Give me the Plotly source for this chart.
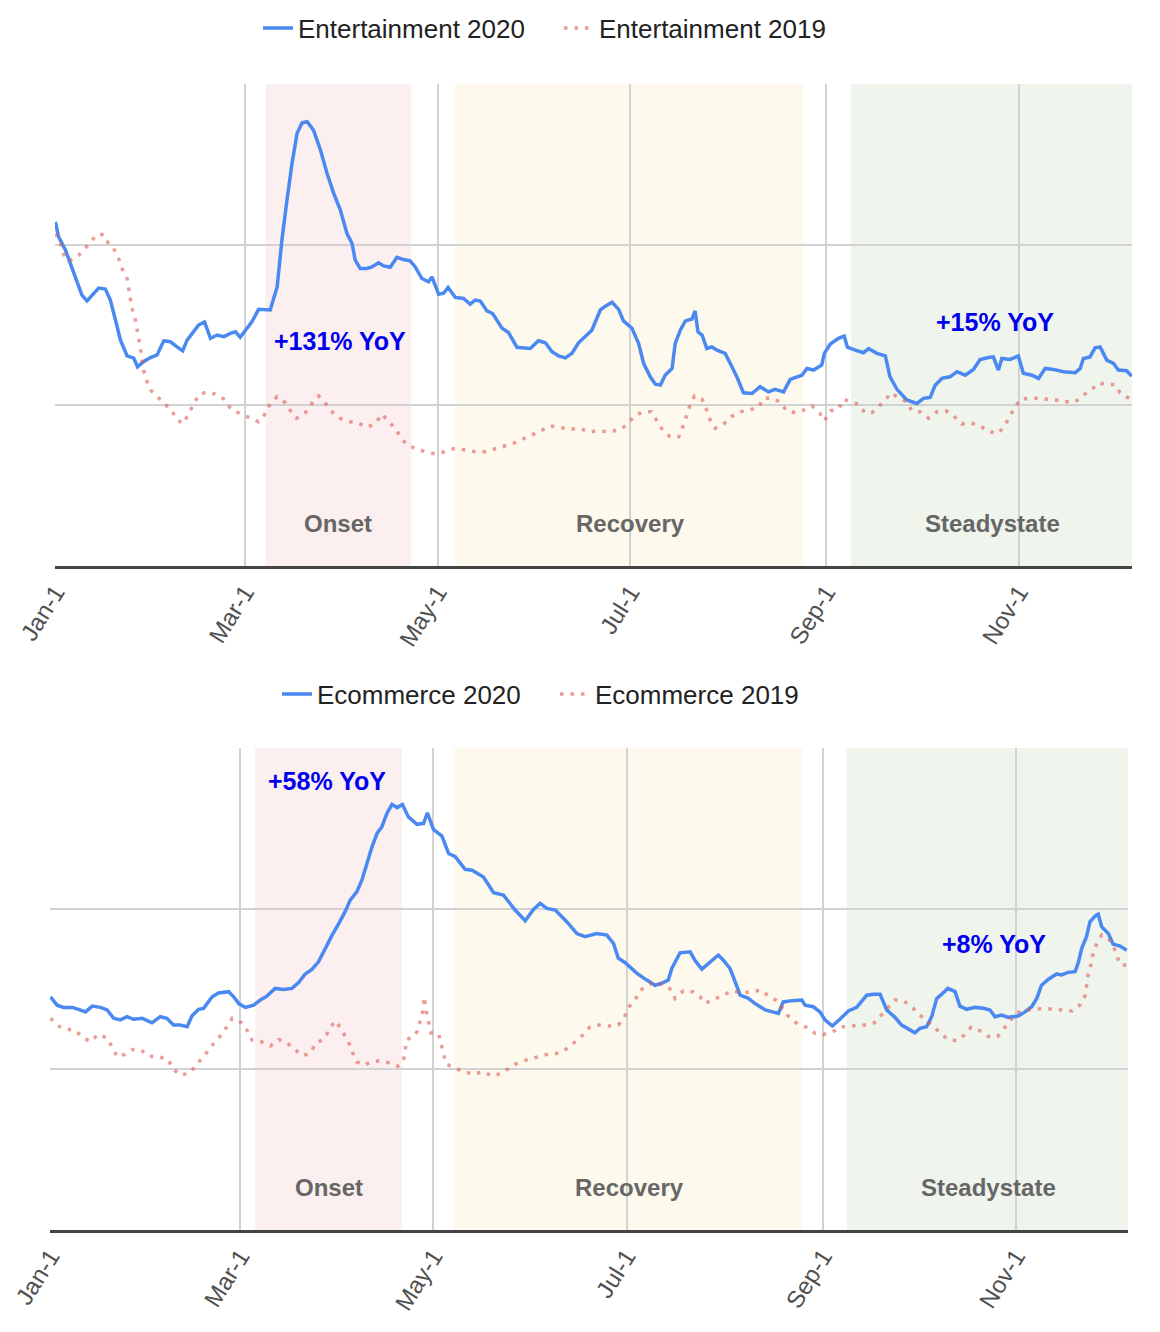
import pandas as pd
import plotly.graph_objects as go

# ---------------- data (day offset from 2020-01-01, index value) ----------------
ent20_day = [0, 1.0, 3.2, 5.8, 8.4, 10.0, 12.1, 13.7, 15.8, 17.4,
             19.0, 20.6, 22.7, 24.8, 26.0, 27.9, 30.1, 32.2, 34.3, 36.4,
             38.5, 40.3, 41.7, 43.8, 45.3, 47.2, 49.1, 51.2, 53.3, 55.4,
             57.0, 58.5, 60.1, 62.2, 64.3, 66.5, 68.0, 70.2, 71.7, 73.3,
             74.9, 76.5, 78.1, 79.7, 81.7, 83.9, 86.0, 88.1, 90.2, 92.3,
             93.9, 94.9, 96.5, 98.6, 100.2, 102.3, 103.9, 106.0, 108.1, 110.2,
             112.3, 113.9, 116.0, 118.1, 119.2, 121.3, 122.9, 124.3, 126.6, 129.2,
             131.3, 132.9, 134.5, 136.6, 138.4, 141.4, 143.4, 146.1, 148.2, 150.3,
             152.9, 155.1, 157.2, 159.3, 161.4, 163.5, 165.6, 168.3, 169.8, 172.5,
             174.1, 176.2, 178.3, 179.8, 182.5, 184.6, 186.2, 188.3, 189.9, 191.5,
             193.0, 195.2, 196.2, 197.8, 199.4, 201.5, 202.5, 203.4, 204.7, 206.2,
             207.8, 209.4, 212.0, 213.6, 215.7, 217.8, 220.5, 223.1, 225.7, 227.8,
             230.5, 232.6, 236.3, 237.9, 240.0, 242.6, 243.4, 245.3, 247.9, 249.7,
             250.7, 253.2, 255.8, 257.4, 260.0, 262.7, 264.2, 266.4, 269.5, 272.7,
             274.8, 276.9, 278.5, 280.6, 283.2, 285.4, 288.0, 290.6, 292.7, 295.4,
             296.9, 298.5, 299.6, 302.2, 304.8, 306.4, 309.1, 311.2, 313.3, 315.9,
             319.1, 322.8, 324.4, 325.4, 327.5, 329.1, 330.7, 332.8, 334.9, 336.5,
             339.1, 340.7]
ent20_val = [107.1, 102.5, 98.3, 91.2, 84.3, 82.5, 85.0, 86.5, 86.2, 82.8,
             76.6, 70.3, 65.4, 64.7, 62.0, 63.6, 64.9, 65.7, 70.1, 69.8,
             68.2, 67.0, 70.3, 72.9, 75.0, 76.0, 70.9, 71.9, 71.4, 72.4,
             72.9, 71.2, 73.4, 76.0, 79.9, 79.9, 79.7, 86.9, 101.5, 113.9,
             125.3, 134.7, 138.0, 138.3, 135.7, 129.5, 122.2, 116.0, 110.8, 103.5,
             100.4, 95.2, 92.6, 92.6, 93.1, 94.4, 93.4, 93.0, 96.1, 95.4,
             95.0, 93.1, 89.5, 88.5, 90.0, 84.6, 84.9, 86.7, 83.6, 83.3,
             81.5, 82.8, 82.5, 79.4, 78.6, 74.0, 72.7, 68.1, 67.9, 67.7,
             70.1, 69.5, 66.7, 65.4, 64.8, 66.2, 69.5, 72.1, 73.4, 79.7,
             80.9, 82.1, 79.9, 76.3, 74.0, 69.3, 63.1, 58.9, 56.6, 56.3,
             59.4, 61.5, 69.3, 73.4, 76.3, 76.9, 79.4, 72.9, 71.9, 67.7,
             68.2, 67.2, 66.2, 63.1, 58.9, 53.9, 53.7, 55.8, 54.2, 55.0,
             54.2, 58.1, 59.4, 61.5, 61.0, 62.6, 66.2, 69.1, 70.9, 71.6,
             68.1, 67.2, 66.4, 67.7, 66.2, 65.4, 58.9, 55.0, 51.7, 50.6,
             52.2, 52.5, 56.3, 58.4, 58.9, 60.5, 59.4, 61.2, 64.3, 64.9,
             65.1, 61.0, 64.6, 64.3, 65.4, 60.0, 59.4, 58.4, 61.5, 61.2,
             60.5, 60.2, 61.5, 64.6, 65.1, 67.9, 68.2, 64.1, 63.1, 61.0,
             60.8, 59.1]

ent19_day = [0, 1.6, 2.6, 4.2, 6.9, 9.0, 11.1, 13.2, 15.3, 16.9,
             18.4, 20.0, 21.1, 22.7, 23.7, 24.3, 25.3, 25.9, 26.4, 27.1,
             27.9, 29.0, 30.1, 32.2, 34.8, 36.9, 38.5, 40.6, 42.2, 43.8,
             45.3, 48.0, 50.6, 53.3, 55.4, 59.1, 62.2, 64.3, 66.5, 68.0,
             70.2, 72.8, 74.4, 76.3, 79.1, 81.2, 83.3, 85.4, 87.6, 90.0,
             93.4, 96.0, 98.6, 101.3, 103.4, 105.5, 107.6, 109.2, 111.3, 113.9,
             117.1, 120.3, 123.4, 126.4, 129.5, 132.9, 136.1, 138.7, 141.9, 145.0,
             147.7, 150.9, 153.5, 156.6, 159.8, 162.7, 165.8, 168.8, 171.9, 175.1,
             178.3, 180.9, 183.3, 185.9, 188.6, 190.4, 192.2, 194.6, 197.3, 198.8,
             199.9, 200.9, 202.3, 204.7, 206.2, 207.3, 208.9, 211.5, 213.9, 216.8,
             219.4, 222.6, 224.1, 226.8, 229.4, 231.5, 234.2, 236.8, 239.5, 241.9,
             243.4, 245.3, 247.9, 249.5, 251.6, 254.2, 256.3, 258.4, 260.5, 262.7,
             264.5, 266.9, 269.5, 271.1, 273.7, 276.4, 279.0, 282.0, 284.3, 286.9,
             289.6, 292.7, 295.4, 298.5, 300.6, 302.2, 303.8, 305.9, 308.5, 311.2,
             313.8, 316.5, 319.6, 322.8, 325.4, 328.1, 330.2, 332.8, 335.4, 337.0,
             339.1, 340.7]
ent19_val = [103.5, 100.5, 97.1, 94.9, 96.3, 98.3, 100.9, 103.2, 103.2, 100.2,
             98.9, 95.8, 92.6, 89.5, 83.3, 80.2, 76.6, 73.4, 70.3, 66.7,
             61.0, 57.4, 54.8, 52.9, 50.4, 48.3, 45.4, 44.4, 47.5, 50.4,
             53.2, 54.2, 53.5, 52.0, 49.1, 47.0, 46.0, 44.9, 47.5, 50.6,
             52.7, 50.8, 48.3, 46.0, 47.7, 50.6, 52.9, 50.8, 48.0, 46.0,
             44.9, 44.4, 43.2, 44.4, 47.3, 44.9, 42.9, 40.2, 37.7, 36.6,
             35.6, 34.9, 35.6, 36.6, 36.1, 35.6, 35.6, 36.3, 37.1, 38.2,
             39.4, 40.8, 42.0, 43.6, 43.2, 42.5, 42.9, 41.8, 42.0, 41.8,
             42.3, 43.9, 46.7, 48.0, 48.0, 45.2, 42.3, 40.2, 40.2, 43.9,
             47.0, 50.1, 52.9, 51.9, 48.5, 45.4, 42.9, 44.2, 46.5, 48.0,
             48.5, 49.4, 52.2, 52.2, 51.1, 48.3, 47.7, 48.5, 49.8, 47.7,
             45.2, 48.3, 48.8, 51.9, 51.1, 50.4, 47.7, 47.7, 49.6, 51.7,
             53.9, 52.4, 51.1, 48.3, 48.0, 46.0, 48.0, 48.3, 46.7, 44.2,
             44.6, 43.6, 41.8, 41.3, 43.9, 47.0, 49.6, 52.2, 51.9, 52.4,
             51.9, 51.7, 51.1, 51.1, 53.2, 55.0, 57.0, 56.5, 56.5, 53.9,
             52.7, 51.7]

eco20_day = [0, 2.1, 4.2, 6.9, 8.9, 11.1, 13.2, 15.8, 17.9, 20.0,
             22.1, 24.2, 26.3, 29.0, 32.1, 34.7, 36.8, 38.9, 41.0, 43.2,
             44.7, 46.8, 48.4, 51.1, 53.1, 56.3, 57.9, 59.5, 61.6, 64.2,
             66.3, 68.4, 71.0, 73.7, 76.3, 78.4, 80.5, 82.6, 84.7, 86.8,
             89.0, 91.0, 93.1, 94.7, 96.8, 98.4, 100.0, 101.6, 103.2, 104.7,
             106.3, 107.9, 109.5, 111.2, 113.1, 115.8, 117.9, 119.1, 121.0, 123.7,
             125.8, 127.9, 131.0, 133.2, 136.8, 140.0, 143.1, 146.8, 150.0, 152.6,
             154.7, 156.8, 159.5, 163.2, 166.3, 168.9, 172.6, 175.8, 177.9, 179.4,
             181.6, 185.3, 188.4, 191.0, 193.1, 195.2, 196.3, 198.9, 202.1, 203.7,
             205.8, 208.4, 211.0, 212.6, 214.7, 216.3, 217.9, 220.5, 222.6, 225.8,
             230.0, 231.5, 234.2, 237.4, 238.4, 241.0, 243.1, 244.7, 247.0,
             249.4, 252.1, 254.7, 257.9, 260.0, 262.1, 264.2, 266.8, 268.9, 271.0,
             273.1, 274.7, 276.8, 278.4, 280.0, 281.6, 283.5, 285.8, 287.3, 289.5,
             292.1, 294.7, 296.8, 298.4, 300.5, 302.6, 305.7, 307.9, 310.0, 311.6,
             313.1, 315.2, 317.9, 319.4, 321.5, 323.7, 324.7, 325.8, 327.3, 328.4,
             330.0, 331.0, 332.1, 334.2, 335.7, 337.9, 340.0]
eco20_val = [72.6, 70.0, 69.3, 69.3, 68.7, 67.9, 69.7, 69.3, 68.5, 65.9,
             65.4, 66.4, 65.6, 65.9, 64.5, 66.4, 65.9, 63.8, 63.8, 63.3,
             66.6, 68.7, 69.0, 72.6, 73.8, 74.2, 72.6, 70.5, 69.3, 70.0,
             71.6, 72.8, 75.2, 74.9, 75.2, 77.0, 79.7, 81.1, 83.5, 87.7,
             91.8, 95.2, 99.1, 102.7, 105.3, 108.9, 114.1, 119.3, 123.5, 125.5,
             129.7, 132.5, 131.5, 132.5, 128.6, 126.3, 126.6, 129.9, 124.7, 122.6,
             117.2, 116.2, 112.3, 112.0, 109.9, 105.0, 104.3, 99.6, 96.3, 99.8,
             101.7, 100.1, 99.6, 95.9, 92.3, 91.3, 92.3, 91.8, 89.2, 84.6,
             83.2, 79.9, 77.8, 76.2, 76.8, 77.8, 81.4, 86.3, 86.6, 83.8,
             81.2, 83.5, 85.6, 84.0, 81.4, 77.3, 73.1, 72.1, 70.5, 68.5,
             67.4, 71.0, 71.4, 71.6, 70.0, 69.5, 67.9, 65.4, 63.5,
             65.6, 68.2, 69.3, 73.1, 73.4, 73.4, 68.5, 66.2, 63.8, 62.5,
             61.4, 62.8, 63.3, 66.4, 72.1, 73.4, 75.2, 74.2, 69.7, 68.7,
             69.3, 69.0, 68.5, 66.4, 66.9, 66.2, 66.6, 67.9, 69.5, 72.1,
             76.2, 78.0, 79.7, 79.4, 80.2, 80.4, 83.2, 87.7, 91.3, 95.9,
             97.7, 98.3, 94.4, 92.3, 89.0, 88.4, 87.1]

eco19_day = [0, 2.6, 5.0, 7.7, 10.0, 12.6, 15.1, 17.9, 19.5, 21.1,
             23.5, 26.0, 28.7, 31.0, 34.2, 37.2, 38.6, 41.0, 43.9, 46.0,
             47.9, 50.2, 52.1, 54.0, 55.8, 57.4, 60.5, 62.1, 63.7, 66.6,
             69.5, 72.1, 74.7, 77.4, 80.0, 82.4, 83.9, 86.3, 88.1, 89.8,
             91.0, 92.6, 94.2, 95.3, 96.8, 98.9, 101.6, 104.2, 106.8, 109.8,
             111.6, 112.6, 114.7, 116.0, 116.8, 117.7, 118.1, 118.7, 119.5, 120.2,
             122.6, 123.4, 124.0, 125.0, 127.6, 130.5, 133.7, 136.8, 139.5, 142.6,
             145.2, 147.9, 151.0, 154.2, 157.3, 160.5, 163.2, 165.8, 168.2, 170.3,
             173.1, 176.3, 179.4, 181.2, 182.6, 184.7, 186.3, 188.6, 191.0, 193.7,
             196.3, 197.3, 200.0, 202.9, 205.2, 206.8, 209.4, 212.1, 215.3, 218.4,
             221.6, 224.7, 226.8, 229.5, 233.1, 236.1, 238.9, 241.6, 244.2, 246.8,
             249.4, 252.3, 255.2, 257.9, 260.3, 262.4, 264.5, 266.8, 269.4, 271.9,
             274.0, 276.1, 278.6, 281.0, 283.5, 286.3, 288.7, 290.8, 293.7, 296.3,
             299.2, 301.3, 303.1, 305.2, 308.4, 311.0, 314.0, 316.8, 320.0, 322.8,
             325.2, 326.8, 327.3, 327.8, 328.7, 329.4, 330.5, 332.1, 334.2, 335.7,
             336.8, 338.0, 340.0]
eco19_val = [65.9, 63.5, 62.5, 62.2, 60.2, 58.6, 60.9, 59.8, 56.9, 53.9,
             54.7, 56.2, 56.0, 54.1, 53.9, 53.2, 50.3, 48.2, 48.8, 51.3,
             53.7, 56.2, 58.9, 60.7, 63.3, 65.9, 64.5, 62.2, 59.1, 58.6,
             57.3, 59.3, 58.3, 56.0, 54.2, 55.5, 58.3, 59.3, 62.2, 65.1,
             63.8, 61.2, 58.6, 55.5, 52.4, 51.3, 52.4, 52.7, 52.1, 51.0,
             52.9, 59.3, 60.2, 62.0, 65.1, 68.2, 72.6, 68.2, 64.8, 61.4,
             61.2, 57.9, 54.8, 51.7, 50.5, 49.3, 48.5, 49.3, 47.9, 48.8,
             50.6, 52.2, 53.1, 53.9, 54.8, 55.0, 56.5, 58.6, 60.7, 63.1,
             63.8, 63.5, 63.8, 65.9, 69.3, 71.6, 74.5, 76.2, 77.3, 76.2,
             74.7, 72.1, 74.5, 74.2, 72.6, 70.5, 71.8, 72.8, 74.5, 73.8,
             74.2, 74.7, 72.8, 71.4, 66.6, 64.1, 63.1, 61.2, 60.9, 61.4,
             63.3, 63.3, 63.8, 63.8, 64.5, 66.9, 69.3, 71.6, 71.4, 69.7,
             67.6, 65.6, 63.8, 61.4, 59.3, 58.9, 60.7, 63.1, 62.0, 60.2,
             60.2, 62.8, 65.1, 67.6, 68.5, 68.7, 69.0, 68.7, 68.5, 68.2,
             70.0, 72.8, 75.9, 79.4, 82.5, 86.1, 89.0, 91.8, 90.8, 88.7,
             85.6, 82.5, 82.5]

tick_dates = ["2020-01-01", "2020-03-01", "2020-05-01", "2020-07-01", "2020-09-01", "2020-11-01"]
tick_labels = ["Jan-1", "Mar-1", "May-1", "Jul-1", "Sep-1", "Nov-1"]

phase_names = ["Onset", "Recovery", "Steadystate"]
phase_colors = ["#fbefef", "#fdf9ec", "#eff4ec"]
top_phase_start = ["2020-03-07T12:00", "2020-05-06T14:00", "2020-09-08T21:00"]
top_phase_end = ["2020-04-22T16:00", "2020-08-24T17:00", "2020-12-06T19:00"]
bot_phase_start = ["2020-03-05T17:00", "2020-05-07T14:00", "2020-09-08T14:00"]
bot_phase_end = ["2020-04-21T02:00", "2020-08-25T10:00", "2020-12-06T10:00"]
top_phase_label_x = ["2020-03-30T14:00", "2020-07-01T00:00", "2020-10-23T12:00"]
bot_phase_label_x = ["2020-03-29T02:00", "2020-07-01T19:00", "2020-10-23T05:00"]
phase_label_y = 13.2

top_yoy_text = ["+131% YoY", "+15% YoY"]
top_yoy_x = ["2020-03-31T05:00", "2020-10-24T12:00"]
top_yoy_y = [70.0, 75.9]
bot_yoy_text = ["+58% YoY", "+8% YoY"]
bot_yoy_x = ["2020-03-28T12:00", "2020-10-25T02:00"]
bot_yoy_y = [139.7, 89.0]

top_range = ["2019-12-31T21:00", "2020-12-06T19:00"]
bot_range = ["2019-12-31T21:00", "2020-12-06T10:00"]

# ---------------- figure ----------------
BASE = pd.Timestamp("2020-01-01")


def to_dates(days):
    return BASE + pd.to_timedelta(days, unit="D")


FONT = "Liberation Sans, Arial, sans-serif"
BLUE = "#4a88f2"
RED = "rgba(222,92,84,0.6)"

fig = go.Figure()
fig.add_trace(go.Scatter(x=to_dates(ent20_day), y=ent20_val, mode="lines", name="Entertainment 2020",
                         line=dict(color=BLUE, width=3.5), xaxis="x", yaxis="y", legend="legend"))
fig.add_trace(go.Scatter(x=to_dates(ent19_day), y=ent19_val, mode="lines", name="Entertainment 2019",
                         line=dict(color=RED, width=3.5, dash="3.5px,7px"), xaxis="x", yaxis="y",
                         legend="legend"))
fig.add_trace(go.Scatter(x=to_dates(eco20_day), y=eco20_val, mode="lines", name="Ecommerce 2020",
                         line=dict(color=BLUE, width=3.5), xaxis="x2", yaxis="y2", legend="legend2"))
fig.add_trace(go.Scatter(x=to_dates(eco19_day), y=eco19_val, mode="lines", name="Ecommerce 2019",
                         line=dict(color=RED, width=3.5, dash="3.5px,7px"), xaxis="x2", yaxis="y2",
                         legend="legend2"))

shapes = []
annotations = []
for xr, yr, starts, ends, lx in [("x", "y", top_phase_start, top_phase_end, top_phase_label_x),
                                 ("x2", "y2", bot_phase_start, bot_phase_end, bot_phase_label_x)]:
    for name, col, s, e, x in zip(phase_names, phase_colors, starts, ends, lx):
        shapes.append(dict(type="rect", xref=xr, yref=yr + " domain", x0=s, x1=e, y0=0, y1=1,
                           fillcolor=col, line=dict(width=0), layer="below"))
        annotations.append(dict(text=name, x=x, y=phase_label_y, xref=xr, yref=yr, showarrow=False,
                                font=dict(family=FONT, size=24, color="#666666", weight="bold")))

for xr, yr, texts, xs, ys in [("x", "y", top_yoy_text, top_yoy_x, top_yoy_y),
                              ("x2", "y2", bot_yoy_text, bot_yoy_x, bot_yoy_y)]:
    for t, x, y in zip(texts, xs, ys):
        annotations.append(dict(text=t, x=x, y=y, xref=xr, yref=yr, showarrow=False,
                                font=dict(family=FONT, size=25, color="#0000ee", weight="bold")))

# page has an 8px body margin; the figure is sized to fit inside it
OFF = 8
W, H = 1160 - OFF, 1332 - OFF


def px_x(a, b):
    return [(a - OFF) / W, (b - OFF) / W]


def px_y(top, bottom):
    return [1 - (bottom - OFF) / H, 1 - (top - OFF) / H]


def xaxis_cfg(dom, rng, anchor):
    return dict(domain=dom, anchor=anchor, type="date", range=rng, automargin=False,
                tickmode="array", tickvals=tick_dates, ticktext=tick_labels,
                tickangle=-58, tickfont=dict(family=FONT, size=24, color="#505050"),
                ticks="", ticklabelstandoff=0,
                showgrid=True, gridcolor="#d2d2d2", gridwidth=1.5,
                showline=True, linecolor="#444444", linewidth=2.5, zeroline=False)


def yaxis_cfg(dom, anchor):
    return dict(domain=dom, anchor=anchor, range=[0, 150.05], tickmode="array", automargin=False,
                tickvals=[0, 50, 100, 150], showticklabels=False, ticks="",
                showgrid=True, gridcolor="#d2d2d2", gridwidth=1.5, zeroline=False, showline=False)


fig.update_layout(
    width=W, height=H,
    margin=dict(l=0, r=0, t=0, b=0, autoexpand=False),
    paper_bgcolor="white", plot_bgcolor="white",
    font=dict(family=FONT),
    showlegend=True,
    xaxis=xaxis_cfg(px_x(55, 1132), top_range, "y"),
    yaxis=yaxis_cfg(px_y(84, 566), "x"),
    xaxis2=xaxis_cfg(px_x(50, 1128), bot_range, "y2"),
    yaxis2=yaxis_cfg(px_y(748, 1230), "x2"),
    legend=dict(orientation="h", x=(258 - OFF) / W, xanchor="left", y=1 - (28 - OFF) / H, yanchor="middle",
                font=dict(family=FONT, size=26, color="#222222"), bgcolor="rgba(0,0,0,0)",
                entrywidth=256),
    legend2=dict(orientation="h", x=(277 - OFF) / W, xanchor="left", y=1 - (694 - OFF) / H, yanchor="middle",
                 font=dict(family=FONT, size=26, color="#222222"), bgcolor="rgba(0,0,0,0)",
                 entrywidth=233),
    shapes=shapes,
    annotations=annotations,
)

fig.write_html("out.html")
